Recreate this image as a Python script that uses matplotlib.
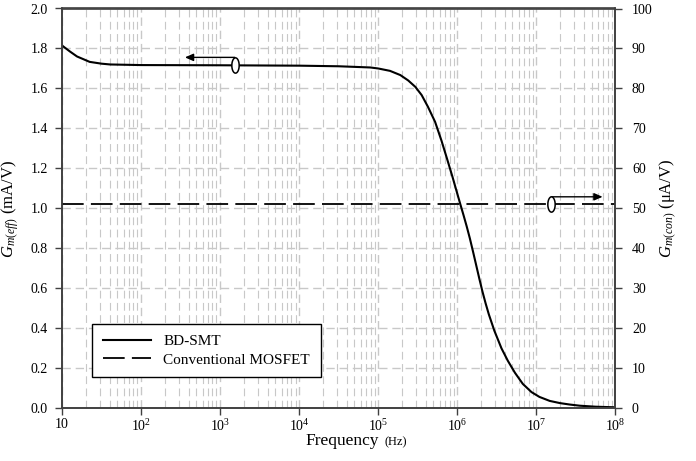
import numpy as np
import matplotlib
matplotlib.use("Agg")
import matplotlib.pyplot as plt
from matplotlib.path import Path
from matplotlib.lines import Line2D

plt.rcParams["font.family"] = ["Liberation Serif", "DejaVu Serif"]
plt.rcParams["mathtext.fontset"] = "custom"
plt.rcParams["mathtext.rm"] = "Liberation Serif"
plt.rcParams["mathtext.it"] = "Liberation Serif:italic"

# BD-SMT effective transconductance (mA/V) vs. frequency (log10 Hz)
freq_log10 = [1.00, 1.05, 1.10, 1.19, 1.35, 1.50, 1.61, 2.00, 3.00, 4.00,
              4.50, 4.90, 5.00, 5.15, 5.28, 5.38, 5.47, 5.55, 5.63, 5.72,
              5.80, 5.87, 5.94, 6.00, 6.04, 6.08, 6.12, 6.16, 6.20, 6.24,
              6.28, 6.32, 6.36, 6.40, 6.47, 6.56, 6.64, 6.73, 6.83, 6.94,
              7.04, 7.17, 7.30, 7.42, 7.55, 7.75, 8.00]
gm_eff = [1.815, 1.800, 1.785, 1.760, 1.733, 1.724, 1.720, 1.717, 1.716, 1.714,
          1.711, 1.705, 1.700, 1.688, 1.667, 1.640, 1.608, 1.567, 1.508, 1.433,
          1.340, 1.250, 1.158, 1.075, 1.020, 0.966, 0.910, 0.850, 0.784, 0.716,
          0.648, 0.583, 0.524, 0.470, 0.388, 0.300, 0.238, 0.178, 0.122, 0.081,
          0.057, 0.037, 0.026, 0.019, 0.013, 0.008, 0.005]

# Conventional MOSFET transconductance (uA/V), flat over frequency
freq_con = [1e1, 1e8]
gm_con = [51.2, 51.2]

y_left_ticks = [0.0, 0.2, 0.4, 0.6, 0.8, 1.0, 1.2, 1.4, 1.6, 1.8, 2.0]
y_right_ticks = [0, 10, 20, 30, 40, 50, 60, 70, 80, 90, 100]
x_tick_exps = [1, 2, 3, 4, 5, 6, 7, 8]

freq = 10.0 ** np.array(freq_log10)

fig = plt.figure(figsize=(6.96, 4.61), dpi=100)
ax = fig.add_axes([62 / 696, 1 - 408.3 / 461, (615.3 - 62) / 696, (408.3 - 8.5) / 461])
ax2 = ax.twinx()

spine_c = "#404040"
grid_c = "#c8c8c8"

ax.set_xscale("log")
ax.set_xlim(10, 1e8)
ax.set_ylim(0, 2.0)
ax2.set_ylim(0, 100)

# grid
ax.set_axisbelow(True)
ax.grid(which="major", axis="both", color=grid_c, lw=1.0, ls=(0, (6, 3.5)))
ax.grid(which="minor", axis="x", color=grid_c, lw=0.8, ls=(0, (7, 4)))

# curves
ln1, = ax.plot(freq, gm_eff, color="black", lw=1.5, solid_capstyle="butt",
               solid_joinstyle="round")
ln2, = ax2.plot(freq_con, gm_con, color="black", lw=1.3, dashes=(12, 4))

# ticks
xt = [10.0 ** e for e in x_tick_exps]
ax.set_xticks(xt)
ax.set_xticklabels(["10"] + [r"$10^{%d}$" % e for e in x_tick_exps[1:]])
ax.xaxis.set_minor_formatter(plt.NullFormatter())
ax.set_yticks(y_left_ticks)
ax.set_yticklabels(["%.1f" % v for v in y_left_ticks])
ax2.set_yticks(y_right_ticks)
ax2.set_yticklabels([str(v) for v in y_right_ticks])

for a in (ax, ax2):
    a.tick_params(which="major", direction="out", length=5, width=1.0,
                  color=spine_c, labelsize=10, labelcolor="black")
    a.tick_params(which="minor", length=0)
    for s in a.spines.values():
        s.set_color(spine_c)
        s.set_linewidth(1.2)
ax.tick_params(axis="x", pad=2)
ax.tick_params(axis="y", pad=5)
ax2.tick_params(axis="y", pad=7)

# axis labels
ax.set_ylabel(r"$G_{m(eff)}$ (mA/V)", fontsize=12, labelpad=7)
ax2.set_ylabel(r"$G_{m(con)}$ ($\mathregular{\mu}$A/V)", fontsize=12, labelpad=4)
ax.text(0.573, -0.062, "Frequency", transform=ax.transAxes, ha="right",
        va="top", fontsize=12.5)
ax.text(0.582, -0.071, "(Hz)", transform=ax.transAxes, ha="left",
        va="top", fontsize=9)

# axis-indicator symbols: ellipse on each curve with arrow toward its axis
theta = np.linspace(0, 2 * np.pi, 60)
ell = Path(np.column_stack([0.48 * np.cos(theta), np.sin(theta)]), closed=True)

ax.plot([1540], [1.717], marker=ell, ms=11, mfc="white", mec="black",
        mew=1.1, zorder=5)
ax.annotate("", xy=(359, 1.7555), xytext=(1540, 1.7555),
            arrowprops=dict(arrowstyle="-|>,head_length=0.5,head_width=0.22",
                            color="black", lw=1.0,
                            mutation_scale=10, shrinkA=0, shrinkB=0))

ax2.plot([1.55e7], [51.2], marker=ell, ms=11, mfc="white", mec="black",
         mew=1.1, zorder=5)
ax2.annotate("", xy=(6.9e7, 52.9), xytext=(1.55e7, 52.9),
             arrowprops=dict(arrowstyle="-|>,head_length=0.5,head_width=0.22",
                             color="black", lw=1.0,
                             mutation_scale=10, shrinkA=0, shrinkB=0))

# legend
leg_handles = [Line2D([], [], color="black", lw=1.5),
               Line2D([], [], color="black", lw=1.3, dashes=(12, 4))]
leg = ax2.legend(leg_handles, ["BD-SMT", "Conventional MOSFET"],
                 loc="lower left", bbox_to_anchor=(0.055, 0.0775),
                 borderaxespad=0, fontsize=11, handlelength=3.15,
                 handletextpad=0.8, borderpad=0.7, labelspacing=0.3,
                 fancybox=False, framealpha=1, edgecolor="black")
leg.get_frame().set_linewidth(1.0)

fig.savefig("out.png", dpi=100)
